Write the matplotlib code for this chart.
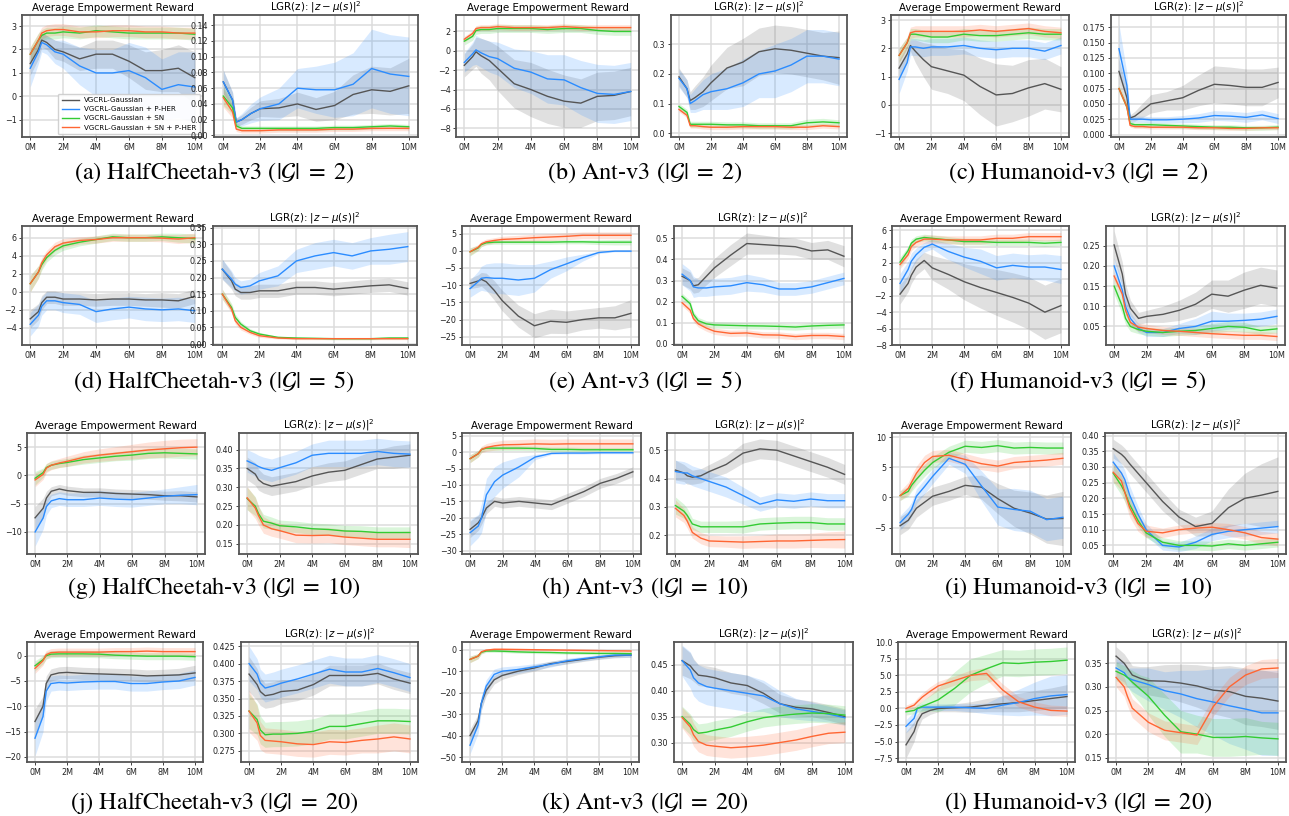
import matplotlib.pyplot as plt
from matplotlib.ticker import MultipleLocator

plt.rcParams['mathtext.fontset'] = 'dejavusans'

# training steps (millions)
steps = [0, 0.5, 0.7, 1, 1.5, 2, 3, 4, 5, 6, 7, 8, 9, 10]
methods = ["VGCRL-Gaussian", "VGCRL-Gaussian + P-HER",
           "VGCRL-Gaussian + SN", "VGCRL-Gaussian + SN + P-HER"]
colors = ["#555555", "#2b8cff", "#33cc33", "#ff6633"]

# each panel: [gaussian, +P-HER, +SN, +SN+P-HER], means and band half-widths
# (a) HalfCheetah |G|=2
hc2_rew = [[1.4, 2.0, 2.4, 2.3, 2.0, 1.9, 1.6, 1.8, 1.8, 1.5, 1.1, 1.1, 1.2, 0.8],
           [1.2, 1.9, 2.3, 2.2, 1.9, 1.8, 1.3, 1.0, 1.0, 1.1, 0.8, 0.3, 0.5, 0.4],
           [1.8, 2.4, 2.6, 2.7, 2.7, 2.75, 2.7, 2.8, 2.75, 2.7, 2.7, 2.7, 2.7, 2.65],
           [1.8, 2.4, 2.7, 2.8, 2.85, 2.85, 2.75, 2.75, 2.8, 2.8, 2.75, 2.75, 2.7, 2.7]]
hc2_rew_sd = [[0.5, 0.4, 0.3, 0.3, 0.4, 0.4, 0.5, 0.6, 0.6, 0.7, 0.8, 0.9, 1.0, 1.1],
              [0.8, 0.5, 0.4, 0.4, 0.5, 0.6, 0.8, 1.0, 1.0, 1.2, 1.3, 1.3, 1.4, 1.5],
              [0.3, 0.3, 0.25, 0.25, 0.25, 0.25, 0.25, 0.25, 0.25, 0.25, 0.25, 0.25, 0.25, 0.25],
              [0.3, 0.3, 0.25, 0.25, 0.25, 0.25, 0.25, 0.25, 0.25, 0.25, 0.25, 0.25, 0.25, 0.25]]
hc2_lgr = [[0.068, 0.045, 0.017, 0.020, 0.028, 0.034, 0.035, 0.040, 0.033, 0.038, 0.052, 0.058, 0.056, 0.063],
           [0.068, 0.045, 0.017, 0.020, 0.028, 0.034, 0.040, 0.060, 0.058, 0.058, 0.065, 0.085, 0.078, 0.075],
           [0.050, 0.035, 0.012, 0.009, 0.009, 0.009, 0.009, 0.009, 0.009, 0.010, 0.010, 0.011, 0.012, 0.011],
           [0.048, 0.030, 0.008, 0.006, 0.006, 0.006, 0.007, 0.007, 0.007, 0.008, 0.008, 0.009, 0.009, 0.009]]
hc2_lgr_sd = [[0.015, 0.01, 0.005, 0.006, 0.008, 0.01, 0.012, 0.015, 0.015, 0.018, 0.025, 0.03, 0.03, 0.035],
              [0.015, 0.01, 0.005, 0.008, 0.012, 0.015, 0.02, 0.025, 0.03, 0.035, 0.04, 0.05, 0.05, 0.05],
              [0.012, 0.008, 0.004, 0.003, 0.003, 0.003, 0.003, 0.003, 0.003, 0.003, 0.003, 0.003, 0.003, 0.003],
              [0.012, 0.008, 0.003, 0.003, 0.003, 0.003, 0.003, 0.003, 0.003, 0.003, 0.003, 0.003, 0.003, 0.003]]

# (b) Ant |G|=2
ant2_rew = [[-1.5, -0.6, -0.1, -0.5, -1.0, -1.8, -3.4, -4.0, -4.7, -5.2, -5.4, -4.7, -4.6, -4.2],
            [-1.2, -0.3, 0.1, -0.2, -0.6, -0.8, -1.8, -2.2, -2.9, -3.0, -3.8, -4.4, -4.5, -4.2],
            [1.0, 1.5, 2.1, 2.2, 2.2, 2.3, 2.3, 2.3, 2.2, 2.3, 2.3, 2.1, 2.0, 2.0],
            [1.2, 1.8, 2.3, 2.4, 2.4, 2.5, 2.4, 2.4, 2.4, 2.5, 2.4, 2.4, 2.4, 2.4]]
ant2_rew_sd = [[1.2, 1.3, 1.5, 1.8, 2.0, 2.3, 2.5, 2.8, 2.8, 2.7, 2.5, 2.5, 2.5, 2.5],
               [1.0, 1.2, 1.5, 1.5, 1.6, 1.7, 2.0, 2.2, 2.5, 2.6, 2.8, 3.0, 3.0, 3.0],
               [0.4, 0.4, 0.4, 0.4, 0.4, 0.4, 0.4, 0.4, 0.4, 0.4, 0.4, 0.4, 0.4, 0.4],
               [0.3, 0.3, 0.3, 0.3, 0.3, 0.3, 0.3, 0.3, 0.3, 0.3, 0.3, 0.3, 0.3, 0.3]]
ant2_lgr = [[0.19, 0.15, 0.11, 0.12, 0.14, 0.17, 0.22, 0.24, 0.275, 0.285, 0.28, 0.27, 0.26, 0.255],
            [0.185, 0.15, 0.10, 0.11, 0.13, 0.14, 0.15, 0.17, 0.20, 0.21, 0.23, 0.26, 0.26, 0.25],
            [0.09, 0.07, 0.03, 0.03, 0.03, 0.03, 0.028, 0.028, 0.025, 0.025, 0.025, 0.035, 0.038, 0.035],
            [0.08, 0.06, 0.025, 0.025, 0.022, 0.02, 0.02, 0.022, 0.022, 0.022, 0.02, 0.02, 0.025, 0.022]]
ant2_lgr_sd = [[0.03, 0.03, 0.03, 0.04, 0.05, 0.06, 0.07, 0.08, 0.08, 0.08, 0.08, 0.08, 0.08, 0.09],
               [0.03, 0.03, 0.03, 0.04, 0.05, 0.06, 0.07, 0.08, 0.08, 0.09, 0.09, 0.09, 0.09, 0.09],
               [0.01, 0.01, 0.01, 0.01, 0.01, 0.01, 0.01, 0.01, 0.01, 0.01, 0.01, 0.012, 0.012, 0.01],
               [0.008, 0.008, 0.008, 0.008, 0.008, 0.008, 0.008, 0.008, 0.008, 0.008, 0.008, 0.008, 0.008, 0.008]]

# (c) Humanoid |G|=2
hum2_rew = [[1.3, 1.8, 2.1, 1.9, 1.6, 1.35, 1.2, 1.05, 0.65, 0.35, 0.4, 0.6, 0.75, 0.55],
            [0.9, 1.5, 2.05, 2.05, 2.0, 2.05, 2.05, 2.1, 2.0, 1.95, 2.0, 2.0, 1.9, 2.1],
            [1.75, 2.2, 2.5, 2.5, 2.45, 2.4, 2.4, 2.5, 2.45, 2.45, 2.5, 2.55, 2.5, 2.5],
            [1.75, 2.2, 2.55, 2.6, 2.6, 2.6, 2.6, 2.6, 2.65, 2.6, 2.65, 2.7, 2.6, 2.55]]
hum2_rew_sd = [[0.3, 0.3, 0.2, 0.4, 0.6, 0.8, 0.8, 0.9, 1.0, 1.1, 1.0, 1.0, 0.9, 0.8],
               [0.5, 0.3, 0.3, 0.3, 0.3, 0.3, 0.3, 0.3, 0.3, 0.3, 0.3, 0.3, 0.3, 0.3],
               [0.25, 0.2, 0.2, 0.2, 0.2, 0.2, 0.2, 0.2, 0.2, 0.2, 0.2, 0.2, 0.2, 0.2],
               [0.25, 0.2, 0.2, 0.2, 0.2, 0.2, 0.2, 0.2, 0.2, 0.2, 0.2, 0.2, 0.2, 0.2]]
hum2_lgr = [[0.103, 0.06, 0.027, 0.03, 0.04, 0.05, 0.055, 0.06, 0.072, 0.082, 0.08, 0.077, 0.077, 0.085],
            [0.14, 0.08, 0.025, 0.025, 0.025, 0.024, 0.024, 0.025, 0.027, 0.031, 0.03, 0.028, 0.032, 0.026],
            [0.075, 0.045, 0.018, 0.016, 0.016, 0.016, 0.015, 0.014, 0.013, 0.012, 0.012, 0.011, 0.011, 0.012],
            [0.075, 0.045, 0.015, 0.013, 0.013, 0.012, 0.012, 0.012, 0.011, 0.011, 0.01, 0.01, 0.011, 0.011]]
hum2_lgr_sd = [[0.02, 0.015, 0.005, 0.008, 0.012, 0.015, 0.015, 0.02, 0.025, 0.03, 0.03, 0.03, 0.03, 0.025],
               [0.04, 0.02, 0.005, 0.005, 0.005, 0.005, 0.005, 0.006, 0.007, 0.008, 0.008, 0.008, 0.008, 0.008],
               [0.006, 0.005, 0.004, 0.004, 0.004, 0.004, 0.004, 0.004, 0.004, 0.004, 0.004, 0.004, 0.004, 0.004],
               [0.006, 0.005, 0.003, 0.003, 0.003, 0.003, 0.003, 0.003, 0.003, 0.003, 0.003, 0.003, 0.003, 0.003]]

# (d) HalfCheetah |G|=5
hc5_rew = [[-3.0, -2.2, -1.2, -0.6, -0.6, -0.8, -0.8, -0.9, -0.8, -0.8, -0.9, -0.9, -1.0, -0.5],
           [-3.6, -2.6, -1.6, -1.0, -1.0, -1.2, -1.4, -2.2, -1.9, -1.7, -1.9, -2.0, -1.9, -2.1],
           [0.9, 2.2, 3.0, 3.8, 4.6, 5.1, 5.5, 5.8, 6.1, 6.0, 6.0, 6.1, 6.0, 5.9],
           [0.9, 2.2, 3.2, 4.1, 5.0, 5.4, 5.7, 5.8, 6.0, 6.0, 6.0, 5.95, 5.85, 6.0]]
hc5_rew_sd = [[1.0, 0.9, 0.8, 0.7, 0.7, 0.7, 0.7, 0.7, 0.7, 0.7, 0.7, 0.8, 0.8, 0.8],
              [1.3, 1.2, 1.0, 1.0, 1.0, 1.1, 1.1, 1.2, 1.2, 1.2, 1.3, 1.3, 1.3, 1.3],
              [0.9, 0.7, 0.6, 0.5, 0.5, 0.5, 0.4, 0.4, 0.4, 0.4, 0.4, 0.4, 0.5, 0.5],
              [0.9, 0.7, 0.6, 0.5, 0.5, 0.5, 0.4, 0.4, 0.4, 0.4, 0.4, 0.4, 0.5, 0.5]]
hc5_lgr = [[0.225, 0.19, 0.165, 0.155, 0.155, 0.16, 0.16, 0.17, 0.17, 0.165, 0.17, 0.175, 0.178, 0.167],
           [0.225, 0.195, 0.18, 0.17, 0.175, 0.19, 0.205, 0.25, 0.265, 0.275, 0.265, 0.28, 0.285, 0.293],
           [0.15, 0.11, 0.08, 0.06, 0.04, 0.03, 0.02, 0.018, 0.017, 0.016, 0.016, 0.016, 0.018, 0.018],
           [0.15, 0.105, 0.07, 0.05, 0.035, 0.025, 0.018, 0.016, 0.016, 0.016, 0.016, 0.016, 0.016, 0.016]]
hc5_lgr_sd = [[0.03, 0.025, 0.02, 0.02, 0.02, 0.02, 0.02, 0.02, 0.02, 0.02, 0.02, 0.02, 0.02, 0.02],
              [0.03, 0.025, 0.02, 0.02, 0.02, 0.025, 0.03, 0.035, 0.04, 0.04, 0.04, 0.04, 0.045, 0.045],
              [0.015, 0.012, 0.01, 0.008, 0.006, 0.005, 0.003, 0.003, 0.003, 0.003, 0.003, 0.003, 0.004, 0.004],
              [0.015, 0.012, 0.01, 0.008, 0.006, 0.005, 0.003, 0.003, 0.003, 0.003, 0.003, 0.003, 0.003, 0.003]]

# (e) Ant |G|=5
ant5_rew = [[-9.5, -8.8, -8.3, -9.0, -11.5, -14.5, -19.0, -21.8, -20.5, -20.8, -20.0, -19.5, -19.5, -18.2],
            [-11.0, -9.0, -8.0, -7.8, -8.0, -8.0, -8.5, -8.0, -5.5, -3.8, -2.0, -0.5, -0.1, -0.1],
            [-0.3, 0.8, 1.8, 2.3, 2.5, 2.5, 2.5, 2.5, 2.5, 2.6, 2.6, 2.5, 2.5, 2.5],
            [-0.3, 1.0, 2.0, 2.6, 3.0, 3.3, 3.5, 3.8, 4.0, 4.2, 4.5, 4.5, 4.5, 4.5]]
ant5_rew_sd = [[1.5, 1.8, 2.0, 2.5, 2.8, 3.0, 3.2, 3.5, 3.5, 3.3, 3.0, 3.0, 3.5, 4.0],
               [2.5, 3.0, 3.5, 4.0, 4.5, 4.5, 4.5, 4.0, 2.5, 2.0, 1.0, 0.3, 0.2, 0.2],
               [1.2, 0.8, 0.6, 0.6, 0.6, 0.6, 0.6, 0.6, 0.6, 0.6, 0.6, 0.7, 0.8, 0.8],
               [1.0, 0.8, 0.8, 0.8, 0.8, 0.9, 1.0, 1.0, 1.0, 1.0, 1.0, 1.0, 1.0, 1.0]]
ant5_lgr = [[0.32, 0.3, 0.275, 0.28, 0.32, 0.36, 0.42, 0.475, 0.47, 0.465, 0.46, 0.44, 0.445, 0.415],
            [0.33, 0.3, 0.27, 0.265, 0.265, 0.27, 0.275, 0.29, 0.28, 0.26, 0.26, 0.27, 0.29, 0.31],
            [0.225, 0.19, 0.14, 0.11, 0.095, 0.09, 0.088, 0.086, 0.085, 0.083, 0.08, 0.085, 0.088, 0.09],
            [0.195, 0.16, 0.12, 0.095, 0.075, 0.06, 0.05, 0.052, 0.043, 0.042, 0.035, 0.04, 0.04, 0.035]]
ant5_lgr_sd = [[0.04, 0.04, 0.035, 0.035, 0.04, 0.045, 0.05, 0.05, 0.045, 0.04, 0.04, 0.04, 0.045, 0.05],
               [0.05, 0.05, 0.05, 0.04, 0.04, 0.04, 0.04, 0.04, 0.035, 0.03, 0.03, 0.03, 0.03, 0.03],
               [0.015, 0.015, 0.015, 0.015, 0.015, 0.015, 0.015, 0.015, 0.015, 0.015, 0.015, 0.015, 0.015, 0.015],
               [0.015, 0.015, 0.015, 0.015, 0.015, 0.015, 0.015, 0.015, 0.015, 0.015, 0.015, 0.015, 0.015, 0.015]]

# (f) Humanoid |G|=5
hum5_rew = [[-1.8, -0.5, 0.5, 1.5, 2.3, 1.4, 0.6, -0.3, -1.0, -1.6, -2.2, -2.9, -4.0, -3.2],
            [-0.5, 1.2, 2.2, 3.0, 3.9, 4.3, 3.4, 2.7, 2.2, 1.4, 1.7, 1.5, 1.5, 1.2],
            [2.1, 3.5, 4.4, 4.9, 5.1, 5.0, 4.8, 4.6, 4.6, 4.5, 4.5, 4.5, 4.4, 4.5],
            [1.8, 3.0, 4.0, 4.5, 4.9, 4.9, 4.8, 4.8, 4.8, 5.0, 5.0, 5.2, 5.2, 5.2]]
hum5_rew_sd = [[1.2, 1.0, 1.0, 1.0, 1.0, 1.5, 1.8, 2.2, 2.5, 2.8, 3.0, 3.2, 3.3, 3.3],
               [1.2, 1.0, 1.0, 0.8, 0.6, 0.6, 1.0, 1.2, 1.5, 1.5, 1.5, 1.5, 1.6, 1.7],
               [0.6, 0.5, 0.5, 0.4, 0.4, 0.4, 0.4, 0.4, 0.4, 0.4, 0.4, 0.4, 0.4, 0.4],
               [0.5, 0.5, 0.5, 0.5, 0.5, 0.5, 0.5, 0.5, 0.5, 0.5, 0.5, 0.5, 0.5, 0.5]]
hum5_lgr = [[0.252, 0.18, 0.13, 0.095, 0.07, 0.075, 0.08, 0.09, 0.105, 0.13, 0.125, 0.14, 0.152, 0.145],
            [0.2, 0.14, 0.1, 0.07, 0.045, 0.035, 0.035, 0.045, 0.05, 0.063, 0.063, 0.065, 0.068, 0.075],
            [0.15, 0.1, 0.07, 0.05, 0.042, 0.038, 0.035, 0.038, 0.04, 0.045, 0.05, 0.048, 0.04, 0.044],
            [0.175, 0.13, 0.09, 0.06, 0.048, 0.045, 0.04, 0.038, 0.035, 0.032, 0.03, 0.028, 0.028, 0.025]]
hum5_lgr_sd = [[0.035, 0.03, 0.025, 0.02, 0.015, 0.015, 0.02, 0.025, 0.03, 0.035, 0.04, 0.045, 0.045, 0.045],
               [0.02, 0.02, 0.02, 0.015, 0.01, 0.01, 0.01, 0.012, 0.02, 0.025, 0.02, 0.018, 0.018, 0.018],
               [0.02, 0.02, 0.015, 0.012, 0.01, 0.01, 0.01, 0.01, 0.01, 0.012, 0.012, 0.012, 0.01, 0.01],
               [0.01, 0.01, 0.01, 0.01, 0.01, 0.01, 0.01, 0.01, 0.01, 0.01, 0.01, 0.01, 0.01, 0.01]]

# (g) HalfCheetah |G|=10
hc10_rew = [[-7.5, -5.8, -4.0, -2.8, -2.4, -2.7, -3.0, -3.0, -3.2, -3.3, -3.4, -3.6, -3.6, -3.8],
            [-10.0, -7.5, -5.5, -4.5, -4.1, -4.3, -4.3, -4.0, -4.2, -4.3, -4.0, -3.7, -3.5, -3.4],
            [-0.5, 0.5, 1.4, 1.8, 2.1, 2.3, 2.8, 3.1, 3.4, 3.6, 3.9, 4.0, 3.9, 3.8],
            [-0.8, 0.2, 1.3, 1.8, 2.2, 2.5, 3.2, 3.6, 3.9, 4.2, 4.5, 4.7, 4.9, 5.0]]
hc10_rew_sd = [[2.0, 1.8, 1.2, 0.8, 0.8, 0.8, 0.8, 0.8, 0.8, 0.8, 0.8, 0.8, 0.9, 0.9],
               [2.5, 2.0, 1.5, 1.2, 1.2, 1.2, 1.2, 1.3, 1.3, 1.3, 1.3, 1.3, 1.5, 1.8],
               [1.2, 0.8, 0.7, 0.7, 0.7, 0.7, 0.8, 0.8, 0.8, 0.9, 0.9, 0.9, 0.9, 0.9],
               [1.2, 0.9, 0.8, 0.8, 0.8, 0.9, 1.0, 1.1, 1.2, 1.3, 1.4, 1.5, 1.5, 1.5]]
hc10_lgr = [[0.35, 0.335, 0.32, 0.31, 0.303, 0.307, 0.315, 0.33, 0.34, 0.345, 0.36, 0.375, 0.38, 0.385],
            [0.37, 0.36, 0.355, 0.35, 0.345, 0.352, 0.365, 0.385, 0.39, 0.39, 0.39, 0.395, 0.39, 0.388],
            [0.27, 0.25, 0.23, 0.21, 0.205, 0.198, 0.195, 0.19, 0.188, 0.184, 0.183, 0.18, 0.18, 0.18],
            [0.272, 0.245, 0.225, 0.2, 0.19, 0.185, 0.173, 0.172, 0.173, 0.168, 0.165, 0.162, 0.162, 0.162]]
hc10_lgr_sd = [[0.03, 0.03, 0.028, 0.025, 0.025, 0.025, 0.025, 0.025, 0.025, 0.025, 0.025, 0.025, 0.03, 0.03],
               [0.03, 0.03, 0.03, 0.03, 0.03, 0.03, 0.03, 0.03, 0.035, 0.035, 0.035, 0.035, 0.035, 0.035],
               [0.03, 0.025, 0.02, 0.018, 0.016, 0.015, 0.015, 0.015, 0.015, 0.015, 0.015, 0.015, 0.015, 0.015],
               [0.03, 0.028, 0.025, 0.022, 0.02, 0.02, 0.02, 0.02, 0.02, 0.02, 0.02, 0.02, 0.02, 0.022]]

# (h) Ant |G|=10
ant10_rew = [[-23.5, -21.5, -20.0, -17.0, -15.0, -15.5, -15.0, -15.5, -16.0, -14.0, -12.0, -9.5, -8.0, -6.0],
             [-24.5, -22.5, -20.0, -13.0, -9.0, -7.0, -4.5, -1.5, -0.4, -0.3, -0.3, -0.2, -0.2, -0.2],
             [-2.0, -0.5, 0.8, 1.2, 1.2, 1.2, 1.2, 1.1, 0.8, 0.8, 0.7, 0.7, 0.7, 0.7],
             [-2.0, -0.5, 0.8, 1.4, 1.9, 2.2, 2.3, 2.5, 2.4, 2.5, 2.5, 2.5, 2.5, 2.5]]
ant10_rew_sd = [[2.5, 2.3, 2.0, 1.8, 1.5, 1.5, 1.5, 1.5, 1.5, 1.5, 1.5, 1.5, 1.5, 1.5],
                [4.0, 3.5, 4.5, 5.0, 4.5, 4.0, 3.0, 0.8, 0.3, 0.3, 0.3, 0.3, 0.3, 0.3],
                [1.2, 1.0, 0.8, 0.7, 0.7, 0.7, 0.7, 0.7, 0.7, 0.7, 0.7, 0.7, 0.7, 0.7],
                [1.2, 1.0, 1.0, 1.2, 1.3, 1.4, 1.5, 1.5, 1.5, 1.5, 1.5, 1.5, 1.5, 1.5]]
ant10_lgr = [[0.43, 0.42, 0.41, 0.405, 0.41, 0.425, 0.45, 0.49, 0.505, 0.5, 0.48, 0.46, 0.44, 0.415],
             [0.425, 0.42, 0.42, 0.41, 0.4, 0.39, 0.37, 0.34, 0.31, 0.325, 0.32, 0.328, 0.322, 0.322],
             [0.305, 0.285, 0.27, 0.24, 0.23, 0.23, 0.23, 0.23, 0.24, 0.243, 0.245, 0.245, 0.24, 0.24],
             [0.295, 0.27, 0.25, 0.21, 0.19, 0.18, 0.178, 0.176, 0.178, 0.18, 0.18, 0.182, 0.184, 0.185]]
ant10_lgr_sd = [[0.035, 0.03, 0.03, 0.025, 0.025, 0.025, 0.03, 0.035, 0.035, 0.035, 0.035, 0.035, 0.035, 0.035],
                [0.04, 0.04, 0.035, 0.035, 0.035, 0.035, 0.035, 0.03, 0.025, 0.025, 0.025, 0.025, 0.025, 0.025],
                [0.03, 0.025, 0.025, 0.02, 0.02, 0.02, 0.02, 0.022, 0.022, 0.022, 0.022, 0.022, 0.022, 0.022],
                [0.03, 0.025, 0.025, 0.02, 0.02, 0.02, 0.02, 0.022, 0.022, 0.025, 0.025, 0.025, 0.028, 0.03]]

# (i) Humanoid |G|=10
hum10_rew = [[-4.7, -3.8, -3.0, -1.8, -0.8, 0.2, 1.0, 2.0, 1.7, -0.2, -1.8, -2.6, -3.6, -3.5],
             [-4.2, -2.8, -2.0, 0.2, 1.8, 3.5, 6.5, 5.5, 1.9, -1.6, -2.0, -2.3, -3.7, -3.3],
             [0.3, 1.0, 2.0, 3.0, 4.5, 5.8, 7.5, 8.5, 8.3, 8.6, 8.2, 8.3, 8.2, 8.2],
             [0.3, 1.5, 2.5, 4.0, 5.8, 6.8, 7.0, 6.3, 5.6, 5.2, 5.8, 6.0, 6.2, 6.5]]
hum10_rew_sd = [[1.5, 1.5, 1.5, 1.5, 1.5, 1.5, 1.5, 1.5, 2.0, 2.5, 3.0, 3.5, 4.0, 4.5],
                [1.2, 1.2, 1.2, 1.2, 1.2, 1.2, 1.0, 1.5, 2.5, 3.0, 3.5, 3.5, 3.5, 3.5],
                [0.8, 0.8, 1.0, 1.0, 1.0, 1.0, 1.0, 1.0, 1.0, 1.0, 1.0, 1.0, 1.0, 1.0],
                [0.8, 1.0, 1.2, 1.2, 1.2, 1.0, 1.0, 1.0, 1.0, 1.0, 1.0, 1.0, 1.0, 1.0]]
hum10_lgr = [[0.358, 0.34, 0.33, 0.31, 0.28, 0.25, 0.19, 0.14, 0.11, 0.12, 0.17, 0.2, 0.21, 0.222],
             [0.315, 0.28, 0.26, 0.21, 0.15, 0.1, 0.05, 0.045, 0.06, 0.085, 0.095, 0.1, 0.105, 0.11],
             [0.28, 0.24, 0.22, 0.18, 0.13, 0.09, 0.06, 0.05, 0.05, 0.048, 0.055, 0.05, 0.055, 0.06],
             [0.283, 0.255, 0.22, 0.17, 0.12, 0.095, 0.09, 0.1, 0.105, 0.108, 0.1, 0.09, 0.075, 0.07]]
hum10_lgr_sd = [[0.03, 0.03, 0.03, 0.03, 0.03, 0.03, 0.03, 0.025, 0.03, 0.04, 0.06, 0.08, 0.1, 0.11],
                [0.03, 0.03, 0.03, 0.03, 0.025, 0.02, 0.015, 0.015, 0.02, 0.02, 0.02, 0.02, 0.02, 0.02],
                [0.03, 0.03, 0.03, 0.025, 0.02, 0.015, 0.015, 0.015, 0.015, 0.015, 0.015, 0.015, 0.015, 0.015],
                [0.03, 0.03, 0.03, 0.03, 0.025, 0.02, 0.015, 0.015, 0.015, 0.015, 0.02, 0.02, 0.02, 0.02]]

# (j) HalfCheetah |G|=20
hc20_rew = [[-13.0, -10.0, -5.5, -3.8, -3.4, -3.3, -3.5, -3.6, -3.7, -3.8, -4.0, -3.9, -3.8, -3.4],
            [-16.3, -12.0, -7.0, -5.5, -5.3, -5.4, -5.2, -5.1, -5.1, -5.5, -5.5, -5.2, -5.0, -4.3],
            [-2.0, -0.8, 0.0, 0.3, 0.35, 0.35, 0.35, 0.3, 0.1, 0.0, -0.1, -0.1, -0.1, -0.2],
            [-2.5, -1.0, 0.2, 0.6, 0.7, 0.7, 0.7, 0.7, 0.8, 0.8, 0.9, 0.8, 0.8, 0.8]]
hc20_rew_sd = [[2.5, 2.0, 1.5, 1.2, 1.2, 1.2, 1.2, 1.2, 1.2, 1.2, 1.2, 1.2, 1.3, 1.5],
               [3.5, 3.0, 2.0, 1.5, 1.5, 1.5, 1.5, 1.5, 1.5, 1.5, 1.5, 1.5, 1.5, 1.5],
               [1.0, 0.8, 0.7, 0.7, 0.7, 0.7, 0.7, 0.7, 0.7, 0.7, 0.7, 0.7, 0.7, 0.7],
               [1.0, 0.9, 0.8, 0.8, 0.8, 0.8, 0.8, 0.8, 0.8, 0.8, 0.8, 0.8, 0.8, 0.8]]
hc20_lgr = [[0.385, 0.37, 0.36, 0.354, 0.356, 0.36, 0.362, 0.37, 0.383, 0.383, 0.383, 0.386, 0.378, 0.372],
            [0.4, 0.385, 0.372, 0.365, 0.368, 0.372, 0.378, 0.385, 0.392, 0.388, 0.388, 0.393, 0.387, 0.38],
            [0.332, 0.32, 0.305, 0.298, 0.299, 0.299, 0.3, 0.303, 0.31, 0.31, 0.314, 0.318, 0.318, 0.317],
            [0.332, 0.315, 0.297, 0.29, 0.289, 0.288, 0.285, 0.284, 0.288, 0.287, 0.29, 0.292, 0.295, 0.292]]
hc20_lgr_sd = [[0.025, 0.023, 0.02, 0.018, 0.018, 0.017, 0.015, 0.015, 0.015, 0.015, 0.015, 0.015, 0.015, 0.015],
               [0.025, 0.022, 0.02, 0.02, 0.02, 0.02, 0.02, 0.02, 0.02, 0.02, 0.02, 0.02, 0.02, 0.02],
               [0.025, 0.022, 0.02, 0.018, 0.018, 0.018, 0.018, 0.018, 0.018, 0.018, 0.018, 0.018, 0.018, 0.018],
               [0.03, 0.025, 0.02, 0.018, 0.018, 0.018, 0.018, 0.018, 0.018, 0.018, 0.018, 0.02, 0.02, 0.02]]

# (k) Ant |G|=20
ant20_rew = [[-40.0, -33.0, -25.0, -19.0, -14.0, -12.0, -10.0, -8.5, -6.5, -5.5, -4.5, -3.5, -2.8, -2.5],
             [-44.5, -35.0, -25.0, -17.0, -11.5, -10.0, -9.2, -8.0, -6.8, -5.2, -4.2, -3.3, -2.5, -2.5],
             [-4.5, -3.0, -1.2, -0.6, -0.6, -0.7, -1.0, -1.2, -1.3, -1.5, -1.6, -1.7, -1.7, -1.8],
             [-4.5, -3.0, -1.0, -0.2, 0.2, 0.2, 0.1, 0.0, -0.1, -0.2, -0.3, -0.4, -0.5, -0.6]]
ant20_rew_sd = [[3.0, 3.0, 3.0, 2.5, 2.0, 1.8, 1.5, 1.5, 1.2, 1.2, 1.0, 1.0, 1.0, 1.0],
                [4.0, 4.0, 3.5, 3.0, 2.5, 2.0, 1.8, 1.5, 1.3, 1.2, 1.0, 1.0, 1.0, 1.0],
                [1.5, 1.2, 0.8, 0.6, 0.6, 0.6, 0.6, 0.6, 0.6, 0.6, 0.6, 0.6, 0.6, 0.6],
                [1.5, 1.2, 0.8, 0.6, 0.6, 0.6, 0.6, 0.6, 0.6, 0.6, 0.6, 0.6, 0.6, 0.6]]
ant20_lgr = [[0.458, 0.448, 0.44, 0.43, 0.428, 0.425, 0.415, 0.41, 0.395, 0.375, 0.368, 0.365, 0.358, 0.35],
             [0.458, 0.44, 0.425, 0.415, 0.408, 0.405, 0.4, 0.395, 0.39, 0.375, 0.365, 0.36, 0.355, 0.348],
             [0.35, 0.335, 0.325, 0.318, 0.32, 0.324, 0.33, 0.34, 0.348, 0.352, 0.355, 0.357, 0.356, 0.353],
             [0.348, 0.33, 0.315, 0.302, 0.295, 0.293, 0.29, 0.292, 0.295, 0.3, 0.305, 0.312, 0.318, 0.32]]
ant20_lgr_sd = [[0.028, 0.025, 0.022, 0.02, 0.02, 0.02, 0.02, 0.02, 0.02, 0.018, 0.016, 0.015, 0.015, 0.015],
                [0.03, 0.035, 0.035, 0.035, 0.035, 0.035, 0.035, 0.035, 0.03, 0.025, 0.02, 0.018, 0.015, 0.015],
                [0.02, 0.02, 0.02, 0.018, 0.018, 0.018, 0.018, 0.018, 0.018, 0.018, 0.018, 0.018, 0.018, 0.018],
                [0.02, 0.022, 0.022, 0.02, 0.02, 0.02, 0.02, 0.02, 0.02, 0.02, 0.02, 0.02, 0.02, 0.02]]

# (l) Humanoid |G|=20
hum20_rew = [[-5.5, -3.5, -2.0, -0.8, -0.3, 0.0, 0.1, 0.2, 0.5, 0.7, 0.9, 1.2, 1.5, 1.8],
             [-2.7, -1.5, 0.0, 0.2, 0.2, 0.2, 0.2, 0.1, 0.0, 0.5, 0.9, 1.5, 1.9, 2.1],
             [-0.5, -0.3, 0.0, 0.3, 0.8, 1.3, 3.0, 5.0, 6.0, 6.9, 6.8, 7.0, 7.1, 7.3],
             [0.0, 0.5, 1.0, 1.7, 2.6, 3.4, 4.2, 5.0, 5.3, 2.8, 1.0, 0.2, -0.3, -0.4]]
hum20_rew_sd = [[2.0, 1.5, 1.2, 0.8, 0.6, 0.5, 0.6, 0.8, 1.0, 1.2, 1.4, 1.5, 1.6, 1.8],
                [1.0, 1.0, 0.5, 0.5, 0.5, 0.5, 0.5, 0.6, 0.8, 1.5, 2.0, 2.5, 3.0, 3.0],
                [0.5, 0.5, 0.6, 0.8, 1.2, 1.8, 2.5, 2.5, 2.2, 2.0, 2.0, 2.0, 2.0, 2.0],
                [0.5, 0.5, 0.6, 0.6, 0.7, 0.7, 0.7, 0.8, 0.9, 0.9, 0.8, 0.8, 0.8, 0.8]]
hum20_lgr = [[0.365, 0.35, 0.34, 0.325, 0.318, 0.313, 0.312, 0.308, 0.302, 0.293, 0.29, 0.28, 0.276, 0.27],
             [0.34, 0.33, 0.32, 0.315, 0.31, 0.305, 0.292, 0.285, 0.275, 0.268, 0.26, 0.253, 0.245, 0.245],
             [0.333, 0.325, 0.32, 0.31, 0.295, 0.28, 0.24, 0.205, 0.2, 0.193, 0.193, 0.195, 0.192, 0.19],
             [0.32, 0.3, 0.28, 0.255, 0.24, 0.225, 0.208, 0.203, 0.198, 0.258, 0.3, 0.325, 0.338, 0.34]]
hum20_lgr_sd = [[0.02, 0.02, 0.02, 0.02, 0.025, 0.03, 0.035, 0.04, 0.045, 0.05, 0.055, 0.06, 0.06, 0.06],
                [0.02, 0.02, 0.02, 0.025, 0.03, 0.035, 0.04, 0.05, 0.06, 0.07, 0.08, 0.085, 0.09, 0.09],
                [0.02, 0.02, 0.02, 0.025, 0.03, 0.04, 0.045, 0.045, 0.04, 0.04, 0.04, 0.04, 0.035, 0.035],
                [0.02, 0.02, 0.02, 0.02, 0.02, 0.02, 0.02, 0.02, 0.02, 0.02, 0.02, 0.02, 0.02, 0.02]]

captions = ["(a) HalfCheetah-v3", "(b) Ant-v3", "(c) Humanoid-v3",
            "(d) HalfCheetah-v3", "(e) Ant-v3", "(f) Humanoid-v3",
            "(g) HalfCheetah-v3", "(h) Ant-v3", "(i) Humanoid-v3",
            "(j) HalfCheetah-v3", "(k) Ant-v3", "(l) Humanoid-v3"]
goal_sizes = [2, 2, 2, 5, 5, 5, 10, 10, 10, 20, 20, 20]

panels = [(hc2_rew, hc2_rew_sd, hc2_lgr, hc2_lgr_sd),
          (ant2_rew, ant2_rew_sd, ant2_lgr, ant2_lgr_sd),
          (hum2_rew, hum2_rew_sd, hum2_lgr, hum2_lgr_sd),
          (hc5_rew, hc5_rew_sd, hc5_lgr, hc5_lgr_sd),
          (ant5_rew, ant5_rew_sd, ant5_lgr, ant5_lgr_sd),
          (hum5_rew, hum5_rew_sd, hum5_lgr, hum5_lgr_sd),
          (hc10_rew, hc10_rew_sd, hc10_lgr, hc10_lgr_sd),
          (ant10_rew, ant10_rew_sd, ant10_lgr, ant10_lgr_sd),
          (hum10_rew, hum10_rew_sd, hum10_lgr, hum10_lgr_sd),
          (hc20_rew, hc20_rew_sd, hc20_lgr, hc20_lgr_sd),
          (ant20_rew, ant20_rew_sd, ant20_lgr, ant20_lgr_sd),
          (hum20_rew, hum20_rew_sd, hum20_lgr, hum20_lgr_sd)]

# y-limits (reward axis, LGR axis) and y tick steps
ylims = [((-1.73, 3.47), (-0.002, 0.153)), ((-8.9, 3.7), (-0.013, 0.399)), ((-1.14, 3.18), (-0.004, 0.195)),
         ((-5.9, 7.3), (-0.003, 0.355)), ((-27.4, 7.2), (-0.005, 0.558)), ((-8.0, 6.5), (0.004, 0.299)),
         ((-13.9, 7.5), (0.123, 0.444)), ((-31.0, 5.8), (0.134, 0.561)), ((-9.4, 10.7), (0.0226, 0.408)),
         ((-21.0, 2.7), (0.259, 0.431)), ((-52.3, 3.6), (0.2625, 0.494)), ((-8.1, 10.05), (0.141, 0.395))]
ysteps = [(1, 0.02), (2, 0.1), (1, 0.025),
          (2, 0.05), (5, 0.1), (2, 0.05),
          (5, 0.05), (5, 0.1), (5, 0.05),
          (5, 0.025), (10, 0.05), (2.5, 0.05)]

# axes boxes in pixels: (left, right) per column, (top, bottom) per row
row_y = [(15, 137), (226, 345), (433, 554), (642, 762)]
row_x = [[(22, 203), (214, 418), (456, 639), (671, 847), (891, 1069), (1111, 1286)],
         [(22, 203), (213, 417), (462, 639), (674, 852), (892, 1069), (1106, 1285)],
         [(27, 205), (239, 418), (462, 641), (667, 853), (892, 1071), (1105, 1286)],
         [(27, 203), (241, 418), (462, 639), (674, 853), (898, 1075), (1108, 1286)]]
cap_x = [214, 645, 1078]
cap_y = [173, 382, 588, 803]

W, H = 1289, 816
fig = plt.figure(figsize=(W / 100, H / 100), dpi=100)


def style(ax):
    ax.grid(True, color="#dcdcdc", linewidth=1.1)
    ax.set_axisbelow(True)
    for s in ax.spines.values():
        s.set_color("#555555")
        s.set_linewidth(1.3)
    ax.tick_params(labelsize=5.8, length=2.5, width=0.6, pad=1.5, colors="#222222")
    ax.set_xticks([0, 2, 4, 6, 8, 10])
    ax.set_xticklabels(["0M", "2M", "4M", "6M", "8M", "10M"])
    ax.set_xlim(-0.5, 10.5)


for i, (rew, rew_sd, lgr, lgr_sd) in enumerate(panels):
    r, c = divmod(i, 3)
    top, bot = row_y[r]
    for k, (vals, sds, title) in enumerate([(rew, rew_sd, "Average Empowerment Reward"),
                                            (lgr, lgr_sd, r"LGR(z): $|z-\mu(s)|^2$")]):
        left, right = row_x[r][2 * c + k]
        ax = fig.add_axes([left / W, 1 - bot / H, (right - left) / W, (bot - top) / H])
        for j in range(4):
            lo = [m - s for m, s in zip(vals[j], sds[j])]
            hi = [m + s for m, s in zip(vals[j], sds[j])]
            ax.fill_between(steps, lo, hi, color=colors[j], alpha=0.18, linewidth=0)
            ax.plot(steps, vals[j], color=colors[j], linewidth=1.0, label=methods[j])
        style(ax)
        ax.yaxis.set_major_locator(MultipleLocator(ysteps[i][k]))
        ax.set_ylim(*ylims[i][k])
        ax.set_title(title, fontsize=7.4, pad=3)
        if i == 0 and k == 0:
            ax.legend(loc="lower right", fontsize=5.1, handlelength=2.4, borderpad=0.5,
                      labelspacing=0.45, framealpha=0.9, edgecolor="#cccccc", fancybox=True,
                      borderaxespad=0.4)
    fig.text(cap_x[c] / W, 1 - cap_y[r] / H,
             captions[i] + r" ($|\mathcal{G}|\;=\;%d$)" % goal_sizes[i],
             ha="center", va="center", fontsize=17.5, family="STIXGeneral",
             math_fontfamily="stix")

fig.savefig("out.png", dpi=100)
